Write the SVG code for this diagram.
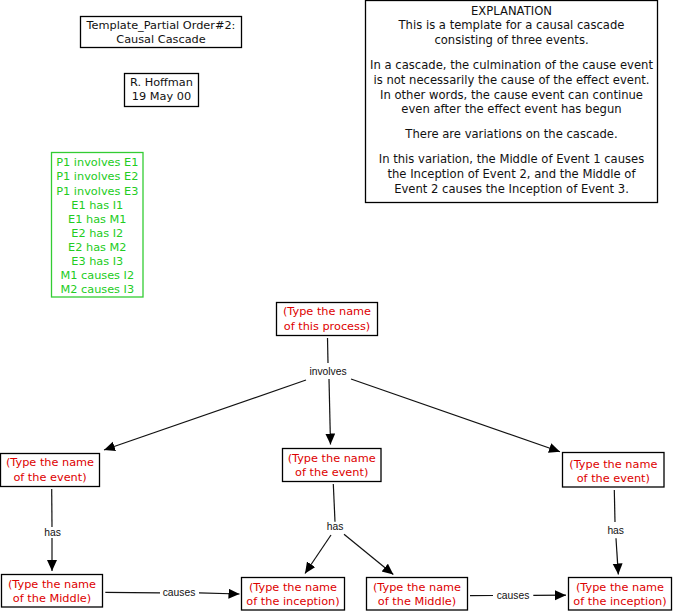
<svg xmlns="http://www.w3.org/2000/svg" width="674" height="613" viewBox="0 0 674 613">
<style>
text{font-family:"DejaVu Sans","Liberation Sans",sans-serif;font-size:11.3px;text-anchor:middle}
.exp{font-size:11.6px}
.box{fill:#fff;stroke:#000;stroke-width:1.3}
.gbox{fill:#fff;stroke:#33cc33;stroke-width:1.3}
.blk{fill:#111}
.red{fill:#dd0000}
.grn{fill:#22cc22}
.lbl{font-family:"Liberation Sans","DejaVu Sans",sans-serif;font-size:10.3px;fill:#111}
.ln{stroke:#111;stroke-width:1.2;fill:none}
.ar{stroke:#111;stroke-width:1.2;fill:none;marker-end:url(#ah)}
</style>
<defs>
<marker id="ah" markerUnits="userSpaceOnUse" markerWidth="12" markerHeight="11" refX="11" refY="5" orient="auto">
<path d="M0,0 L11,5 L0,10 z" fill="#000"/>
</marker>
</defs>
<rect width="674" height="613" fill="#fff"/>
<g id="connectors">
<line class="ln" x1="327.5" y1="338" x2="328" y2="363"/>
<line class="ar" x1="329" y1="379" x2="330.5" y2="444.5"/>
<line class="ar" x1="306" y1="380" x2="104" y2="450"/>
<line class="ar" x1="351" y1="379" x2="560" y2="451.7"/>
<text class="lbl" x="328" y="374.8">involves</text>
<line class="ln" x1="51.7" y1="489" x2="52" y2="527"/>
<line class="ar" x1="52" y1="538" x2="52" y2="571"/>
<text class="lbl" x="52.5" y="536">has</text>
<line class="ln" x1="333.3" y1="484" x2="335" y2="521.7"/>
<line class="ar" x1="331" y1="535" x2="305" y2="573.5"/>
<line class="ar" x1="344" y1="534.3" x2="393.3" y2="574.5"/>
<text class="lbl" x="335" y="530.4">has</text>
<line class="ln" x1="614.3" y1="490" x2="615" y2="522"/>
<line class="ar" x1="616" y1="538.3" x2="618.3" y2="574.5"/>
<text class="lbl" x="615.7" y="534.4">has</text>
<line class="ln" x1="105.3" y1="592.3" x2="160" y2="592.8"/>
<line class="ar" x1="199" y1="592.8" x2="239.5" y2="594"/>
<text class="lbl" x="179" y="596">causes</text>
<line class="ln" x1="470" y1="595.7" x2="493" y2="595.5"/>
<line class="ar" x1="533.3" y1="595.4" x2="566" y2="595.2"/>
<text class="lbl" x="513" y="599">causes</text>
</g>
<g id="title">
<rect class="box" x="80.5" y="16.5" width="161" height="31"/>
<text class="blk" x="161" y="29">Template_Partial Order#2:</text>
<text class="blk" x="161" y="43">Causal Cascade</text>
</g>
<g id="author">
<rect class="box" x="124.5" y="73.5" width="74" height="33"/>
<text class="blk" x="161.5" y="86">R. Hoffman</text>
<text class="blk" x="161.5" y="100">19 May 00</text>
</g>
<g id="propositions">
<rect class="gbox" x="51.5" y="152.5" width="91.5" height="144.5"/>
<text class="grn" x="97.3" y="166.3">P1 involves E1</text>
<text class="grn" x="97.3" y="180.4">P1 involves E2</text>
<text class="grn" x="97.3" y="194.5">P1 involves E3</text>
<text class="grn" x="97.3" y="208.6">E1 has I1</text>
<text class="grn" x="97.3" y="222.7">E1 has M1</text>
<text class="grn" x="97.3" y="236.8">E2 has I2</text>
<text class="grn" x="97.3" y="250.9">E2 has M2</text>
<text class="grn" x="97.3" y="265">E3 has I3</text>
<text class="grn" x="97.3" y="279.1">M1 causes I2</text>
<text class="grn" x="97.3" y="293.2">M2 causes I3</text>
</g>
<g id="explanation">
<rect class="box" x="365.5" y="0.5" width="292" height="202"/>
<text class="blk exp" x="511.5" y="15">EXPLANATION</text>
<text class="blk exp" x="511.5" y="29.3">This is a template for a causal cascade</text>
<text class="blk exp" x="511.5" y="44">consisting of three events.</text>
<text class="blk exp" x="511.5" y="69.3">In a cascade, the culmination of the cause event</text>
<text class="blk exp" x="511.5" y="84">is not necessarily the cause of the effect event.</text>
<text class="blk exp" x="511.5" y="98.7">In other words, the cause event can continue</text>
<text class="blk exp" x="511.5" y="113">even after the effect event has begun</text>
<text class="blk exp" x="511.5" y="138.3">There are variations on the cascade.</text>
<text class="blk exp" x="511.5" y="163.3">In this variation, the Middle of Event 1 causes</text>
<text class="blk exp" x="511.5" y="178">the Inception of Event 2, and the Middle of</text>
<text class="blk exp" x="511.5" y="192.7">Event 2 causes the Inception of Event 3.</text>
</g>
<g id="process">
<rect class="box" x="276.5" y="302.5" width="101" height="33"/>
<text class="red" x="327" y="315.3">(Type the name</text>
<text class="red" x="327" y="329.5">of this process)</text>
</g>
<g id="event1">
<rect class="box" x="0.5" y="453.5" width="99" height="33"/>
<text class="red" x="50" y="466.3">(Type the name</text>
<text class="red" x="50" y="480.7">of the event)</text>
</g>
<g id="event2">
<rect class="box" x="282.5" y="448.5" width="98.5" height="33"/>
<text class="red" x="331.7" y="461.7">(Type the name</text>
<text class="red" x="331.7" y="475.5">of the event)</text>
</g>
<g id="event3">
<rect class="box" x="562.5" y="452.5" width="101.5" height="34.5"/>
<text class="red" x="613.3" y="467.5">(Type the name</text>
<text class="red" x="613.3" y="481.7">of the event)</text>
</g>
<g id="middle1">
<rect class="box" x="1.5" y="574.5" width="101" height="32.5"/>
<text class="red" x="52" y="587.5">(Type the name</text>
<text class="red" x="52" y="601.7">of the Middle)</text>
</g>
<g id="inception1">
<rect class="box" x="241.5" y="577.5" width="103" height="32.5"/>
<text class="red" x="293" y="590.7">(Type the name</text>
<text class="red" x="293" y="604.5">of the inception)</text>
</g>
<g id="middle2">
<rect class="box" x="366.5" y="577.5" width="101" height="32.5"/>
<text class="red" x="417" y="590.7">(Type the name</text>
<text class="red" x="417" y="604.5">of the Middle)</text>
</g>
<g id="inception2">
<rect class="box" x="568.5" y="577.5" width="103" height="32.5"/>
<text class="red" x="620" y="590.7">(Type the name</text>
<text class="red" x="620" y="604.5">of the inception)</text>
</g>
</svg>
